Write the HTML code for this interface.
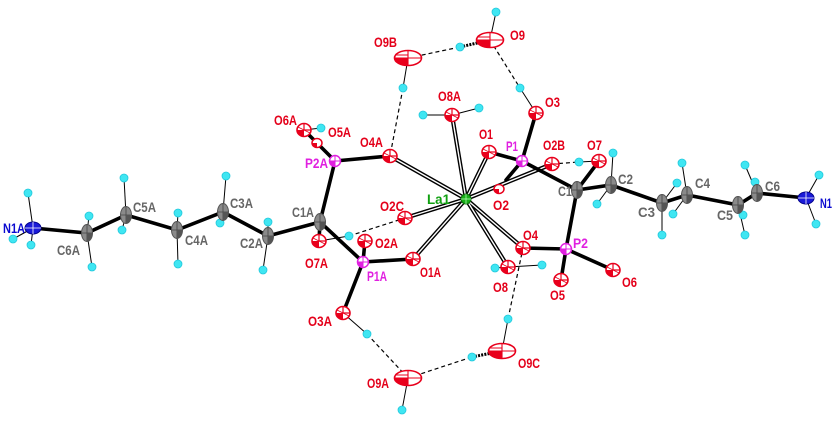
<!DOCTYPE html>
<html><head><meta charset="utf-8"><style>
html,body{margin:0;padding:0;background:#fff;}
svg{display:block;}
text{font-family:"Liberation Sans",Arial,sans-serif;font-weight:bold;font-size:14px;}
.o{fill:#e4001a}.c{fill:#666}.p{fill:#e020e0}.n{fill:#0a0ad0}.la{fill:#10a010}
.b{stroke:#000;stroke-width:3.6;stroke-linecap:round;fill:none}
.db{stroke:#000;stroke-width:4.2;fill:none}
.dw{stroke:#fff;stroke-width:1.4;fill:none}
.t{stroke:#000;stroke-width:1;fill:none}
.d{stroke:#000;stroke-width:1.2;stroke-dasharray:4,3;fill:none}
.hd{stroke:#000;stroke-width:3;stroke-dasharray:2,1.2;fill:none}
</style></head><body>
<svg width="837" height="422" viewBox="0 0 837 422" xmlns="http://www.w3.org/2000/svg">
<defs>
<g id="O"><ellipse rx="7" ry="6.5" fill="#fff" stroke="#e8001c" stroke-width="1.6"/><path d="M-7,0 A7,6.5 0 0 0 0,6.5 L0,0 Z" fill="#e8001c"/><path d="M0,-6.5 L0,0 L7,0" stroke="#e8001c" stroke-width="1.2" fill="none"/><path d="M-6,-3 L6,3" stroke="#e8001c" stroke-width="0.8"/></g>
<g id="Os"><ellipse rx="5" ry="4.5" fill="#fff" stroke="#e8001c" stroke-width="1.5"/><path d="M-5,0 A5,4.5 0 0 0 0,4.5 L0,0 Z" fill="#e8001c"/></g>
<g id="W"><ellipse rx="13.5" ry="7.5" fill="#fff" stroke="#e8001c" stroke-width="1.6"/><path d="M-13.5,0 A13.5,7.5 0 0 0 0,7.5 L0,0 Z" fill="#e8001c"/><path d="M-12,-3 L0,-3 M-13,0 L0,0 M0,-7.5 L0,7.5 M0,0 L13.5,0" stroke="#e8001c" stroke-width="1.1" fill="none"/></g>
<g id="C"><ellipse rx="5.5" ry="8.5" fill="#8a8a8a" stroke="#555" stroke-width="1"/><path d="M-5.5,0 L5.5,0 M0,-8.5 L0,8.5" stroke="#444" stroke-width="0.8"/><path d="M0,0 L5.5,0 A5.5,8.5 0 0 1 0,8.5 Z" fill="#555"/></g>
<g id="P"><circle r="5.5" fill="#fff" stroke="#e020e0" stroke-width="1.5"/><path d="M-5.5,0 A5.5,5.5 0 0 0 0,5.5 L0,0 Z" fill="#e020e0"/><path d="M-5.5,0 L5.5,0 M0,-5.5 L0,5.5" stroke="#e020e0" stroke-width="1"/></g>
<g id="H"><circle r="4" fill="#3fe6f2" stroke="#22c8dc" stroke-width="0.8"/></g>
<g id="N"><ellipse rx="8" ry="6" fill="#1a1ad8" stroke="#00008a" stroke-width="1"/><path d="M-8,0 L8,0 M0,-6 L0,6" stroke="#fff" stroke-width="0.8"/></g>
<g id="La"><circle r="5" fill="#18b018" stroke="#0a700a" stroke-width="1"/><path d="M-5,0 L5,0 M0,-5 L0,5" stroke="#bfffbf" stroke-width="0.7"/></g>
</defs>

<!-- thin H bonds -->
<g class="t">
<line x1="33" y1="228" x2="28" y2="193"/><line x1="33" y1="228" x2="13" y2="239"/><line x1="33" y1="228" x2="31" y2="245"/>
<line x1="87" y1="233" x2="89" y2="216"/><line x1="87" y1="233" x2="92" y2="267"/>
<line x1="126" y1="215" x2="124" y2="178"/><line x1="126" y1="215" x2="122" y2="230"/>
<line x1="177" y1="230" x2="178" y2="213"/><line x1="177" y1="230" x2="178" y2="264"/>
<line x1="223" y1="212" x2="226" y2="176"/><line x1="223" y1="212" x2="220" y2="223"/>
<line x1="268" y1="236" x2="268" y2="222"/><line x1="268" y1="236" x2="263" y2="270"/>
<line x1="319" y1="241" x2="349" y2="236"/>
<line x1="304" y1="130" x2="321" y2="128"/>
<line x1="408" y1="58" x2="403" y2="88"/>
<line x1="490" y1="40" x2="496" y2="12"/>
<line x1="536" y1="113" x2="520" y2="88"/>
<line x1="452" y1="115" x2="423" y2="115"/><line x1="452" y1="115" x2="479" y2="108"/>
<line x1="599" y1="161" x2="579" y2="162"/>
<line x1="611" y1="185" x2="613" y2="153"/><line x1="611" y1="185" x2="597" y2="204"/>
<line x1="662" y1="203" x2="662" y2="235"/><line x1="662" y1="203" x2="677" y2="183"/><line x1="687" y1="195" x2="682" y2="163"/><line x1="687" y1="195" x2="673" y2="214"/>
<line x1="738" y1="205" x2="745" y2="235"/><line x1="738" y1="205" x2="743" y2="215"/><line x1="757" y1="193" x2="745" y2="165"/><line x1="757" y1="193" x2="755" y2="182"/>
<line x1="806" y1="198" x2="819" y2="175"/><line x1="806" y1="198" x2="816" y2="224"/>
<line x1="508" y1="267" x2="495" y2="268"/><line x1="508" y1="267" x2="542" y2="265"/>
<line x1="502" y1="351" x2="508" y2="319"/>
<line x1="343" y1="313" x2="367" y2="334"/>
<line x1="408" y1="378" x2="402" y2="410"/>
</g>
<line class="hd" x1="490" y1="40" x2="460" y2="47"/>
<line class="hd" x1="502" y1="351" x2="472" y2="357"/>

<!-- dashed H-bonds -->
<g class="d">
<line x1="408" y1="58" x2="460" y2="47"/>
<line x1="490" y1="40" x2="520" y2="88"/>
<line x1="403" y1="88" x2="390" y2="156"/>
<line x1="349" y1="236" x2="405" y2="218"/>
<line x1="552" y1="164" x2="579" y2="162"/>
<line x1="367" y1="334" x2="408" y2="378"/>
<line x1="408" y1="378" x2="472" y2="357"/>
<line x1="508" y1="319" x2="523" y2="248"/>
</g>

<!-- La bonds -->
<g class="db">
<line x1="466" y1="199" x2="452" y2="115"/><line x1="466" y1="199" x2="489" y2="152"/><line x1="466" y1="199" x2="552" y2="164"/><line x1="466" y1="199" x2="390" y2="156"/>
<line x1="466" y1="199" x2="405" y2="218"/><line x1="466" y1="199" x2="413" y2="259"/><line x1="466" y1="199" x2="523" y2="248"/><line x1="466" y1="199" x2="508" y2="267"/>
</g>
<g class="dw">
<line x1="466" y1="199" x2="452" y2="115"/><line x1="466" y1="199" x2="489" y2="152"/><line x1="466" y1="199" x2="552" y2="164"/><line x1="466" y1="199" x2="390" y2="156"/>
<line x1="466" y1="199" x2="405" y2="218"/><line x1="466" y1="199" x2="413" y2="259"/><line x1="466" y1="199" x2="523" y2="248"/><line x1="466" y1="199" x2="508" y2="267"/>
</g>

<!-- thick bonds -->
<g class="b">
<polyline points="33,228 87,233 126,215 177,230 223,212 268,236 320,222"/>
<line x1="320" y1="222" x2="335" y2="161"/><line x1="320" y1="222" x2="363" y2="262"/><line x1="320" y1="222" x2="319" y2="241"/>
<line x1="335" y1="161" x2="390" y2="156"/><line x1="335" y1="161" x2="304" y2="130"/>
<line x1="363" y1="262" x2="413" y2="259"/><line x1="363" y1="262" x2="343" y2="313"/><line x1="363" y1="262" x2="365" y2="241"/>
<line x1="522" y1="161" x2="489" y2="152"/><line x1="522" y1="161" x2="536" y2="113"/><line x1="522" y1="161" x2="577" y2="190"/><line x1="522" y1="161" x2="506" y2="180"/>
<line x1="577" y1="190" x2="599" y2="161"/><line x1="577" y1="190" x2="566" y2="249"/>
<line x1="566" y1="249" x2="523" y2="248"/><line x1="566" y1="249" x2="561" y2="280"/><line x1="566" y1="249" x2="613" y2="270"/>
<polyline points="577,190 611,185 662,203 687,195 738,205 757,193 806,198"/>
</g>

<!-- H atoms -->
<use href="#H" x="28" y="193"/><use href="#H" x="13" y="239"/><use href="#H" x="31" y="245"/>
<use href="#H" x="89" y="216"/><use href="#H" x="92" y="267"/>
<use href="#H" x="124" y="178"/><use href="#H" x="122" y="230"/>
<use href="#H" x="178" y="213"/><use href="#H" x="178" y="264"/>
<use href="#H" x="226" y="176"/><use href="#H" x="220" y="223"/>
<use href="#H" x="268" y="222"/><use href="#H" x="263" y="270"/>
<use href="#H" x="349" y="236"/><use href="#H" x="321" y="128"/>
<use href="#H" x="403" y="88"/><use href="#H" x="460" y="47"/><use href="#H" x="496" y="12"/>
<use href="#H" x="520" y="88"/><use href="#H" x="423" y="115"/><use href="#H" x="479" y="108"/>
<use href="#H" x="579" y="162"/><use href="#H" x="613" y="153"/><use href="#H" x="597" y="204"/>
<use href="#H" x="662" y="235"/><use href="#H" x="673" y="214"/><use href="#H" x="682" y="163"/><use href="#H" x="677" y="183"/>
<use href="#H" x="745" y="165"/><use href="#H" x="745" y="235"/><use href="#H" x="755" y="182"/><use href="#H" x="743" y="215"/>
<use href="#H" x="819" y="175"/><use href="#H" x="816" y="224"/>
<use href="#H" x="495" y="268"/><use href="#H" x="542" y="265"/>
<use href="#H" x="508" y="319"/><use href="#H" x="472" y="357"/>
<use href="#H" x="367" y="334"/><use href="#H" x="402" y="410"/>

<!-- heavy atoms -->
<use href="#N" x="33" y="228"/><use href="#N" x="806" y="198"/>
<use href="#C" x="87" y="233"/><use href="#C" x="126" y="215"/><use href="#C" x="177" y="230"/><use href="#C" x="223" y="212"/><use href="#C" x="268" y="236"/><use href="#C" x="320" y="222"/>
<use href="#C" x="577" y="190"/><use href="#C" x="611" y="185"/><use href="#C" x="662" y="203"/><use href="#C" x="687" y="195"/><use href="#C" x="738" y="205"/><use href="#C" x="757" y="193"/>
<use href="#Os" x="317" y="143"/>
<use href="#O" x="319" y="241"/><use href="#O" x="304" y="130"/><use href="#O" x="390" y="156"/><use href="#O" x="365" y="241"/><use href="#O" x="413" y="259"/><use href="#O" x="343" y="313"/><use href="#O" x="405" y="218"/>
<use href="#O" x="452" y="115"/><use href="#O" x="536" y="113"/><use href="#O" x="489" y="152"/><use href="#Os" x="499" y="189"/><use href="#O" x="552" y="164"/><use href="#O" x="599" y="161"/>
<use href="#O" x="523" y="248"/><use href="#O" x="561" y="280"/><use href="#O" x="613" y="270"/><use href="#O" x="508" y="267"/>
<use href="#W" x="408" y="58"/><use href="#W" x="490" y="40"/><use href="#W" x="408" y="378"/><use href="#W" x="502" y="351"/>
<use href="#P" x="335" y="161"/><use href="#P" x="363" y="262"/><use href="#P" x="522" y="161"/><use href="#P" x="566" y="249"/>
<use href="#La" x="466" y="199"/>

<!-- labels -->
<text class="n" x="3" y="233" textLength="22" lengthAdjust="spacingAndGlyphs">N1A</text>
<text class="c" x="57" y="255" textLength="23" lengthAdjust="spacingAndGlyphs">C6A</text>
<text class="c" x="133" y="212" textLength="23" lengthAdjust="spacingAndGlyphs">C5A</text>
<text class="c" x="185" y="245" textLength="23" lengthAdjust="spacingAndGlyphs">C4A</text>
<text class="c" x="230" y="208" textLength="23" lengthAdjust="spacingAndGlyphs">C3A</text>
<text class="c" x="240" y="248" textLength="23" lengthAdjust="spacingAndGlyphs">C2A</text>
<text class="c" x="292" y="217" textLength="22" lengthAdjust="spacingAndGlyphs">C1A</text>
<text class="o" x="305" y="268" textLength="23" lengthAdjust="spacingAndGlyphs">O7A</text>
<text class="p" x="305" y="168" textLength="23" lengthAdjust="spacingAndGlyphs">P2A</text>
<text class="o" x="274" y="125" textLength="23" lengthAdjust="spacingAndGlyphs">O6A</text>
<text class="o" x="328" y="137" textLength="23" lengthAdjust="spacingAndGlyphs">O5A</text>
<text class="o" x="360" y="147" textLength="23" lengthAdjust="spacingAndGlyphs">O4A</text>
<text class="o" x="374" y="47" textLength="23" lengthAdjust="spacingAndGlyphs">O9B</text>
<text class="o" x="510" y="40" textLength="15" lengthAdjust="spacingAndGlyphs">O9</text>
<text class="o" x="438" y="101" textLength="23" lengthAdjust="spacingAndGlyphs">O8A</text>
<text class="o" x="545" y="107" textLength="15" lengthAdjust="spacingAndGlyphs">O3</text>
<text class="o" x="479" y="139" textLength="14" lengthAdjust="spacingAndGlyphs">O1</text>
<text class="p" x="506" y="151" textLength="12" lengthAdjust="spacingAndGlyphs">P1</text>
<text class="o" x="543" y="150" textLength="22" lengthAdjust="spacingAndGlyphs">O2B</text>
<text class="o" x="587" y="150" textLength="15" lengthAdjust="spacingAndGlyphs">O7</text>
<text class="c" x="558" y="196" textLength="14" lengthAdjust="spacingAndGlyphs">C1</text>
<text class="c" x="618" y="184" textLength="15" lengthAdjust="spacingAndGlyphs">C2</text>
<text class="c" x="638" y="217" textLength="17" lengthAdjust="spacingAndGlyphs">C3</text>
<text class="c" x="695" y="188" textLength="15" lengthAdjust="spacingAndGlyphs">C4</text>
<text class="c" x="717" y="220" textLength="16" lengthAdjust="spacingAndGlyphs">C5</text>
<text class="c" x="765" y="191" textLength="15" lengthAdjust="spacingAndGlyphs">C6</text>
<text class="n" x="820" y="208" textLength="12" lengthAdjust="spacingAndGlyphs">N1</text>
<text class="la" x="427" y="204" textLength="23" lengthAdjust="spacingAndGlyphs">La1</text>
<text class="o" x="380" y="211" textLength="24" lengthAdjust="spacingAndGlyphs">O2C</text>
<text class="o" x="493" y="210" textLength="16" lengthAdjust="spacingAndGlyphs">O2</text>
<text class="o" x="375" y="248" textLength="23" lengthAdjust="spacingAndGlyphs">O2A</text>
<text class="o" x="420" y="277" textLength="21" lengthAdjust="spacingAndGlyphs">O1A</text>
<text class="p" x="367" y="281" textLength="20" lengthAdjust="spacingAndGlyphs">P1A</text>
<text class="o" x="308" y="326" textLength="24" lengthAdjust="spacingAndGlyphs">O3A</text>
<text class="o" x="367" y="388" textLength="22" lengthAdjust="spacingAndGlyphs">O9A</text>
<text class="o" x="523" y="240" textLength="15" lengthAdjust="spacingAndGlyphs">O4</text>
<text class="p" x="573" y="248" textLength="15" lengthAdjust="spacingAndGlyphs">P2</text>
<text class="o" x="493" y="292" textLength="15" lengthAdjust="spacingAndGlyphs">O8</text>
<text class="o" x="550" y="300" textLength="15" lengthAdjust="spacingAndGlyphs">O5</text>
<text class="o" x="622" y="287" textLength="15" lengthAdjust="spacingAndGlyphs">O6</text>
<text class="o" x="518" y="368" textLength="22" lengthAdjust="spacingAndGlyphs">O9C</text>
</svg>
</body></html>
